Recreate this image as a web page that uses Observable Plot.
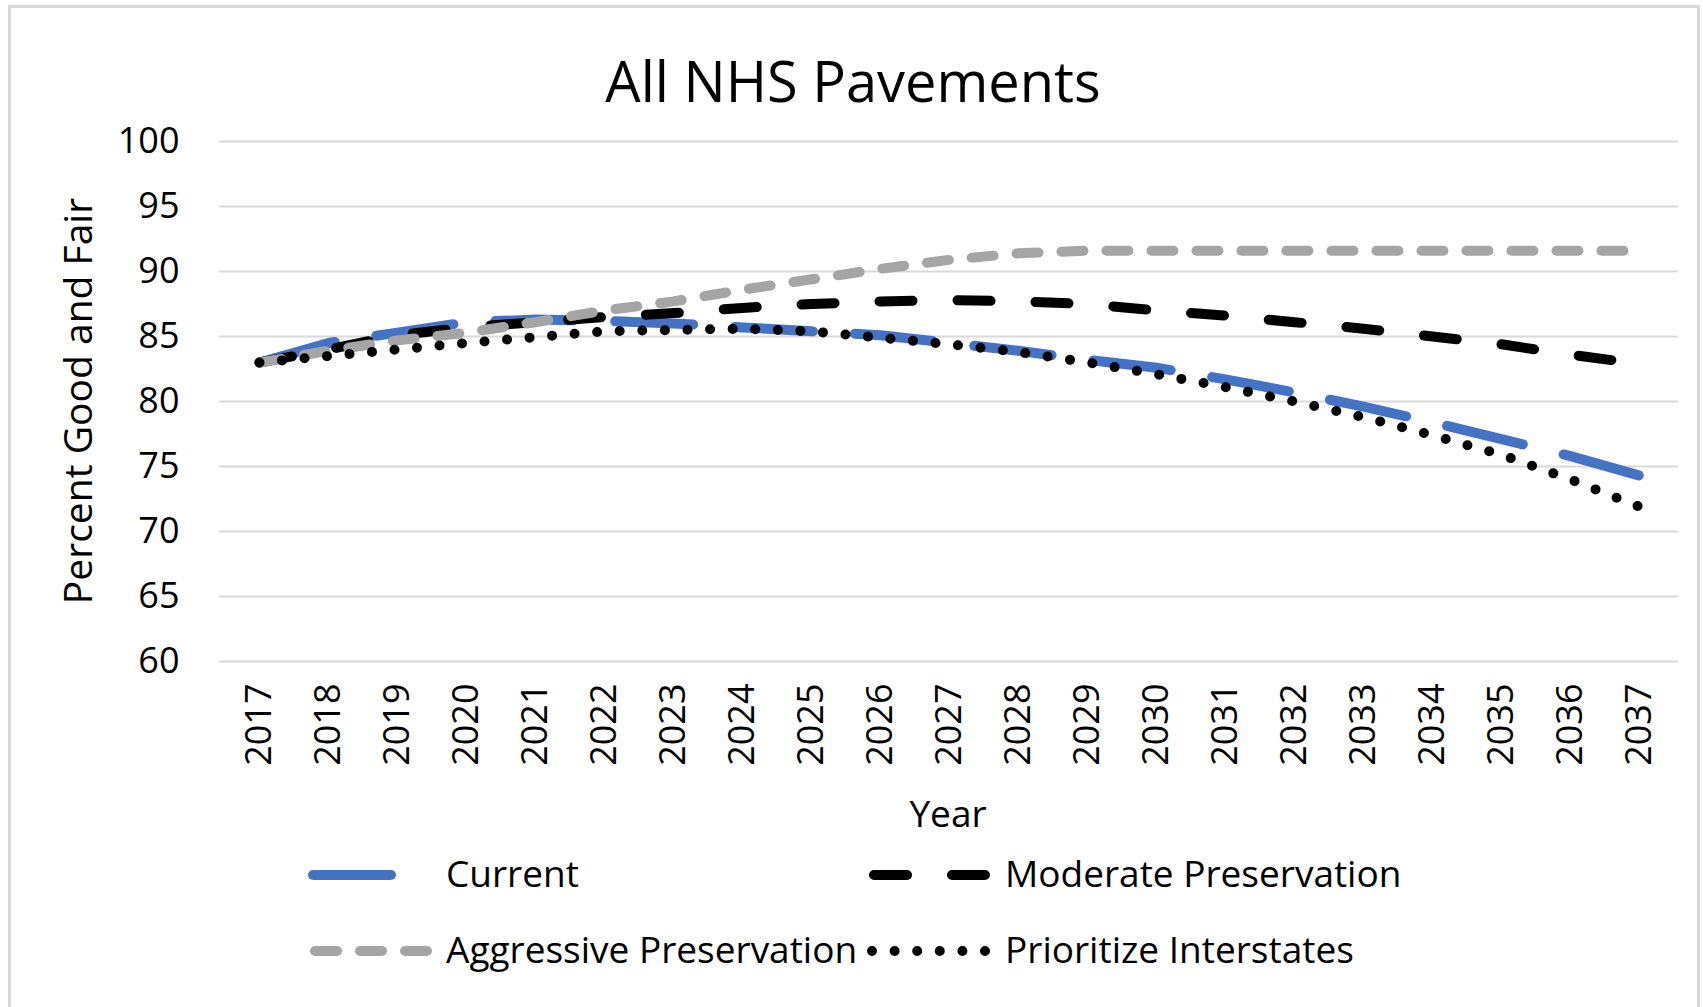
<!DOCTYPE html>
<html>
<head>
<meta charset="utf-8">
<script src="https://cdn.jsdelivr.net/npm/d3@7"></script>
<script src="https://cdn.jsdelivr.net/npm/@observablehq/plot@0.6"></script>
<style>
  html, body { margin: 0; padding: 0; background: #fff; }
  body { font-family: "Open Sans", sans-serif; color: #000; }
  #wrap { position: relative; width: 1703px; height: 1007px; overflow: hidden; background: #fff; }
  #frame { position: absolute; left: 8px; top: 5px; width: 1692px; height: 1100px; border: 3px solid #d9d9d9; box-sizing: border-box; }
  #chart { position: absolute; left: 0; top: 0; }
  .txt { position: absolute; line-height: 1; white-space: nowrap; }
  #title { left: 9px; width: 1688px; top: 52px; text-align: center; font-size: 56px; }
  #ylab { left: 76px; top: 401px; font-size: 39px; transform: translate(-50%, -50%) rotate(-90deg); }
  #xlab { left: 948px; top: 812px; font-size: 37px; transform: translate(-50%, -50%); }
  .leg { position: absolute; font-size: 37px; line-height: 1; white-space: nowrap; }
  .sw { position: absolute; }
</style>
</head>
<body>
<div id="wrap">
  <div id="frame"></div>
  <div id="chart"></div>
  <div class="txt" id="title">All NHS Pavements</div>
  <div class="txt" id="ylab">Percent Good and Fair</div>
  <div class="txt" id="xlab">Year</div>
  <div id="legend"></div>
</div>
<script>
// ---- data ----
const years = ["2017","2018","2019","2020","2021","2022","2023","2024","2025","2026","2027",
               "2028","2029","2030","2031","2032","2033","2034","2035","2036","2037"];
const current =     [83.0, 84.5, 85.3, 86.1, 86.3, 86.2, 86.0, 85.7, 85.4, 85.1, 84.5,
                     83.9, 83.2, 82.6, 81.7, 80.7, 79.6, 78.4, 77.1, 75.8, 74.3];
const moderate =    [83.0, 84.0, 85.1, 85.7, 86.1, 86.5, 86.8, 87.2, 87.5, 87.7, 87.8,
                     87.7, 87.5, 87.0, 86.6, 86.1, 85.6, 85.0, 84.4, 83.6, 82.9];
const aggressive =  [83.0, 83.9, 84.7, 85.3, 86.1, 87.0, 87.7, 88.6, 89.4, 90.2, 90.9,
                     91.4, 91.6, 91.6, 91.6, 91.6, 91.6, 91.6, 91.6, 91.6, 91.6];
const prioritize =  [83.0, 83.5, 84.0, 84.5, 84.95, 85.4, 85.5, 85.6, 85.4, 84.9, 84.4,
                     83.8, 83.0, 82.1, 81.1, 80.0, 78.8, 77.4, 75.9, 74.0, 71.9];
const yTicks = [60, 65, 70, 75, 80, 85, 90, 95, 100];
const seriesNames = ["Current", "Moderate Preservation", "Aggressive Preservation", "Prioritize Interstates"];

// ---- styles ----
const styles = {
  "Current":                 {stroke: "#4472C4", strokeWidth: 10, strokeDasharray: "78,42"},
  "Moderate Preservation":   {stroke: "#000000", strokeWidth: 10, strokeDasharray: "33,45"},
  "Aggressive Preservation": {stroke: "#A5A5A5", strokeWidth: 10, strokeDasharray: "22,23"},
  "Prioritize Interstates":  {stroke: "#000000", strokeWidth: 10, strokeDasharray: "0,22.6"}
};
const seriesValues = [current, moderate, aggressive, prioritize];

const lineMarks = seriesNames.map((name, k) =>
  Plot.line(years, {
    x: d => d,
    y: (d, i) => seriesValues[k][i],
    ...styles[name],
    strokeLinecap: "round",
    strokeLinejoin: "round"
  })
);

const chart = Plot.plot({
  width: 1703,
  height: 1007,
  marginLeft: 219,
  marginRight: 25,
  marginTop: 141,
  marginBottom: 346,
  style: {fontFamily: '"Open Sans", sans-serif', fontSize: "37px", color: "#000", background: "transparent"},
  x: {type: "point", domain: years, padding: 0.5},
  y: {domain: [60, 100]},
  marks: [
    Plot.gridY(yTicks, {stroke: "#d9d9d9", strokeOpacity: 1, strokeWidth: 2}),
    Plot.axisY(yTicks, {tickSize: 0, tickPadding: 40, label: null, fontSize: 36}),
    Plot.axisX({tickSize: 0, tickRotate: -90, tickPadding: 22, label: null, fontSize: 36}),
    ...lineMarks
  ]
});
document.getElementById("chart").appendChild(chart);

// ---- legend (HTML) ----
const legendItems = [
  {name: "Current", swX: 308, txX: 446, cy: 875, len: 122},
  {name: "Moderate Preservation", swX: 869, txX: 1005, cy: 875, len: 122},
  {name: "Aggressive Preservation", swX: 310, txX: 446, cy: 951, len: 122},
  {name: "Prioritize Interstates", swX: 867, txX: 1005, cy: 951, len: 126}
];
const legend = document.getElementById("legend");
for (const it of legendItems) {
  const s = styles[it.name];
  const half = s.strokeWidth / 2;
  const svg = document.createElementNS("http://www.w3.org/2000/svg", "svg");
  svg.setAttribute("class", "sw");
  svg.setAttribute("width", 130);
  svg.setAttribute("height", 20);
  svg.style.left = it.swX + "px";
  svg.style.top = (it.cy - 10) + "px";
  const ln = document.createElementNS("http://www.w3.org/2000/svg", "line");
  ln.setAttribute("x1", half);
  ln.setAttribute("x2", it.len - half);
  ln.setAttribute("y1", 10);
  ln.setAttribute("y2", 10);
  ln.setAttribute("stroke", s.stroke);
  ln.setAttribute("stroke-width", s.strokeWidth);
  ln.setAttribute("stroke-dasharray", s.strokeDasharray);
  ln.setAttribute("stroke-linecap", "round");
  svg.appendChild(ln);
  legend.appendChild(svg);
  const t = document.createElement("div");
  t.className = "leg";
  t.textContent = it.name;
  t.style.left = it.txX + "px";
  t.style.top = (it.cy - 20.6) + "px";
  legend.appendChild(t);
}
</script>
</body>
</html>
